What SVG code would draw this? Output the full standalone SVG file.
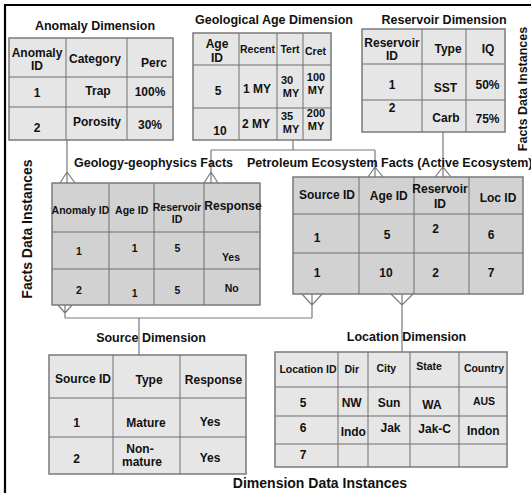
<svg xmlns="http://www.w3.org/2000/svg" width="531" height="493" viewBox="0 0 531 493">
<style>
text{font-family:"Liberation Sans",Arial,sans-serif;font-weight:bold;fill:#111;text-anchor:middle}
.t{font-size:12.5px}
.c12{font-size:12px}
.c10{font-size:10.5px}
.s11{font-size:11px}
.dim{fill:#e6e6e6;stroke:#7a7a7a;stroke-width:1.5}
.fact{fill:#d2d2d2;stroke:#7a7a7a;stroke-width:1.5}
.g{stroke:#6e6e6e;stroke-width:1;fill:none}
.con{stroke:#7a7a7a;stroke-width:1.2;fill:none}
</style>
<rect width="531" height="493" fill="#fff"/>
<path d="M4 5H531M5 4V493" stroke="#000" stroke-width="2.2" fill="none"/>

<g id="connectors" class="con">
<path d="M67 140V183M60 183L67 172L75 183"/>
<path d="M293 140V150M211 150H375M211 150V183M204 183L211 172L218 183M375 150V177M368 177L375 167L383 177"/>
<path d="M443 132V177M435 177L443 167L451 177"/>
<path d="M65 305V318M58 305L65 313L72 305M65 318H312M139 318V355"/>
<path d="M312 294V318M302 294L312 305L322 294"/>
<path d="M402 294V352M391 294L402 305L413 294"/>
</g>

<g id="anomaly">
<text class="t" x="95" y="30">Anomaly Dimension</text>
<rect class="dim" x="9" y="38" width="164" height="102"/>
<path class="g" d="M66 38V140M127 38V140M9 77H173M9 107H173"/>
<g class="c12">
<text x="37" y="57">Anomaly</text><text x="37" y="70">ID</text>
<text x="95" y="63">Category</text><text x="154" y="67">Perc</text>
<text x="37" y="97">1</text><text x="98" y="95">Trap</text><text x="150" y="96">100%</text>
<text x="37" y="132">2</text><text x="97" y="126">Porosity</text><text x="150" y="129">30%</text>
</g>
</g>

<g id="age">
<text class="t" x="274" y="24">Geological Age Dimension</text>
<rect class="dim" x="193" y="33" width="138" height="107"/>
<path class="g" d="M239 33V140M277 33V140M303 33V140M193 65H331M193 108H331"/>
<g class="c12">
<text x="217" y="48">Age</text><text x="217" y="62">ID</text>
<text x="218" y="95">5</text><text x="220" y="135">10</text>
</g>
<g class="s11">
<text x="287" y="84">30</text><text x="291" y="97">MY</text>
<text x="316" y="81">100</text><text x="316" y="94">MY</text>
<text x="287" y="120">35</text><text x="291" y="133">MY</text>
<text x="316" y="117">200</text><text x="316" y="130">MY</text>
</g>
<g class="c10">
<text x="257.5" y="53">Recent</text><text x="290" y="53">Tert</text><text x="315.5" y="55">Cret</text>
<text x="257" y="93" style="font-size:12px">1 MY</text><text x="256" y="128" style="font-size:12px">2 MY</text>
</g>
</g>

<g id="reservoir">
<text class="t" x="444" y="24">Reservoir Dimension</text>
<rect class="dim" x="362" y="29" width="143" height="103"/>
<path class="g" d="M422 29V132M466 29V132M362 64H505M362 100H505"/>
<g class="c12">
<text x="392" y="47">Reservoir</text><text x="392" y="60">ID</text>
<text x="448" y="53">Type</text><text x="488" y="53">IQ</text>
<text x="392" y="89">1</text><text x="445.5" y="92">SST</text><text x="487.5" y="89">50%</text>
<text x="392" y="112">2</text><text x="446" y="122">Carb</text><text x="487.5" y="123">75%</text>
</g>
</g>

<text class="t" transform="translate(527 89) rotate(-90)">Facts Data Instances</text>
<text transform="translate(32 229) rotate(-90)" style="font-size:14px">Facts Data Instances</text>

<g id="geology">
<text class="t" x="153.5" y="167">Geology-geophysics Facts</text>
<rect class="fact" x="52" y="183" width="208" height="122"/>
<path class="g" d="M109 183V305M154 183V305M204 183V305M52 232H260M52 269H260"/>
<g class="c10">
<text x="80.5" y="214">Anomaly ID</text><text x="131.7" y="214">Age ID</text>
<text x="177" y="210.7">Reservoir</text><text x="177" y="223">ID</text>
<text x="233" y="210" style="font-size:12px">Response</text>
<text x="79" y="255">1</text><text x="134.7" y="252">1</text><text x="177.5" y="252">5</text><text x="231" y="260.7">Yes</text>
<text x="79" y="294">2</text><text x="134.7" y="296.7">1</text><text x="177.5" y="294">5</text><text x="231.7" y="291.7">No</text>
</g>
</g>

<g id="petroleum">
<text class="t" x="247" y="167" style="text-anchor:start">Petroleum Ecosystem Facts (Active Ecosystem)</text>
<rect class="fact" x="293" y="177" width="230" height="117"/>
<path class="g" d="M359 177V294M414 177V294M469 177V294M293 214H523M293 253H523"/>
<g class="c12">
<text x="327" y="199">Source ID</text><text x="388.8" y="200">Age ID</text>
<text x="440" y="193">Reservoir</text><text x="440" y="208">ID</text>
<text x="498" y="201.7">Loc ID</text>
<text x="317" y="241.7">1</text><text x="387" y="239">5</text><text x="435.5" y="233">2</text><text x="491" y="239">6</text>
<text x="317" y="276.7">1</text><text x="386" y="277">10</text><text x="435.5" y="276.7">2</text><text x="491" y="276.7">7</text>
</g>
</g>

<g id="source">
<text class="t" x="151" y="342">Source Dimension</text>
<rect class="dim" x="49" y="355" width="197" height="119"/>
<path class="g" d="M113 355V474M180 355V474M49 398H246M49 437H246"/>
<g class="c12">
<text x="83" y="383">Source ID</text><text x="149" y="384">Type</text><text x="213.5" y="384">Response</text>
<text x="76.7" y="426.7">1</text><text x="146" y="426.7">Mature</text><text x="210" y="426">Yes</text>
<text x="76.7" y="462.7">2</text><text x="140" y="453">Non-</text><text x="142" y="465.7">mature</text><text x="210" y="462">Yes</text>
</g>
</g>

<g id="location">
<text class="t" x="406.5" y="341">Location Dimension</text>
<rect class="dim" x="275" y="352" width="232" height="115"/>
<path class="g" d="M338 352V467M368 352V467M410 352V467M459 352V467M275 387H507M275 416H507M275 444H507"/>
<g class="c10">
<text x="308" y="372.7">Location ID</text><text x="351.7" y="372.7">Dir</text><text x="386.3" y="371.7">City</text><text x="429" y="370">State</text><text x="484" y="371.7">Country</text>
<text x="303" y="406.7" style="font-size:12px">5</text><text x="351.7" y="406.7" style="font-size:12px">NW</text><text x="389" y="406.7" style="font-size:12px">Sun</text><text x="432" y="409.3" style="font-size:12px">WA</text><text x="484" y="405">AUS</text>
<text x="303" y="432.3" style="font-size:12px">6</text><text x="353.3" y="436" style="font-size:12px">Indo</text><text x="390.5" y="431.7" style="font-size:12px">Jak</text><text x="434.7" y="432.7" style="font-size:12px">Jak-C</text><text x="483.3" y="435" style="font-size:12px">Indon</text>
<text x="303" y="459" style="font-size:12px">7</text>
</g>
</g>

<text x="320" y="488" style="font-size:14px">Dimension Data Instances</text>
</svg>
